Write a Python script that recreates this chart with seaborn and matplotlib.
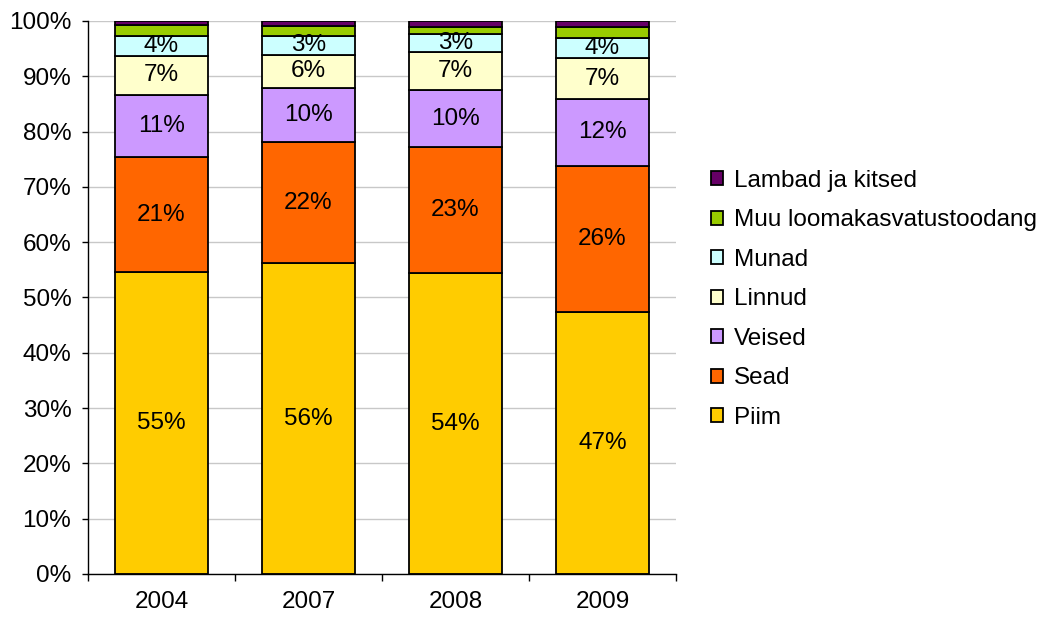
import numpy as np
import pandas as pd
import matplotlib
matplotlib.use('Agg')
import matplotlib.pyplot as plt
import seaborn as sns
from matplotlib.ticker import MultipleLocator, FuncFormatter

# data (shares in %)
years = ['2004', '2007', '2008', '2009']
series = ['Piim', 'Sead', 'Veised', 'Linnud', 'Munad', 'Muu loomakasvatustoodang', 'Lambad ja kitsed']
piim = [54.6, 56.2, 54.4, 47.4]
sead = [20.8, 21.9, 22.8, 26.4]
veised = [11.2, 9.8, 10.3, 12.1]
linnud = [7.1, 6.0, 6.9, 7.4]
munad = [3.6, 3.4, 3.2, 3.6]
muu = [2.0, 1.8, 1.3, 2.0]
lambad = [0.7, 0.9, 1.1, 1.1]
colors = ['#FFCC00', '#FF6600', '#CC99FF', '#FFFFCC', '#CCFFFF', '#99CC00', '#660066']
labelled = ['Piim', 'Sead', 'Veised', 'Linnud', 'Munad']

values = [piim, sead, veised, linnud, munad, muu, lambad]
df = pd.DataFrame({'year': years * len(series),
                   'series': np.repeat(series, len(years)),
                   'share': np.concatenate(values)})

sns.set_style('white')
plt.rcParams['font.family'] = ['Liberation Sans', 'DejaVu Sans']
plt.rcParams['text.color'] = 'black'
plt.rcParams['xtick.color'] = 'black'
plt.rcParams['ytick.color'] = 'black'
fs = 17.5

fig = plt.figure(figsize=(10.38, 6.21), dpi=100)
ax = fig.add_axes([0.0848, 0.0757, 0.5665, 0.8905])

bottom = np.zeros(len(years))
for name, col in zip(series, colors):
    sub = df[df['series'] == name]
    sns.barplot(data=sub, x='year', y='share', order=years, bottom=bottom,
                color=col, edgecolor='black', linewidth=1.3, width=0.63,
                saturation=1, errorbar=None, label=name, ax=ax)
    if name in labelled:
        ax.bar_label(ax.containers[-1], labels=[f'{v:.0f}%' for v in sub['share']],
                     label_type='center', fontsize=fs, color='black')
    bottom = bottom + sub['share'].values

ax.set_xlim(-0.5, 3.5)
ax.set_ylim(0, 100)
ax.yaxis.set_major_locator(MultipleLocator(10))
ax.yaxis.set_major_formatter(FuncFormatter(lambda v, p: f'{v:.0f}%'))
ax.yaxis.grid(True, color='#C8C8C8', linewidth=1)
ax.set_axisbelow(True)
ax.set_xlabel('')
ax.set_ylabel('')
for s in ['top', 'right']:
    ax.spines[s].set_visible(False)
for s in ['left', 'bottom']:
    ax.spines[s].set_color('black')
    ax.spines[s].set_linewidth(1)
ax.tick_params(axis='y', which='major', direction='out', length=4, width=1,
               color='black', labelcolor='black', labelsize=fs, pad=8, left=True)
ax.tick_params(axis='x', which='major', length=0, labelsize=fs, labelcolor='black', pad=12)
ax.set_xticks([-0.5, 0.5, 1.5, 2.5, 3.5], minor=True)
ax.tick_params(axis='x', which='minor', direction='out', length=5, width=1,
               color='black', bottom=True)

handles, labels = ax.get_legend_handles_labels()
leg = ax.legend(handles[::-1], labels[::-1], loc='center left',
                bbox_to_anchor=(0.685, 0.518), bbox_transform=fig.transFigure,
                frameon=False, fontsize=fs, handlelength=0.5, handleheight=0.5,
                handletextpad=0.45, labelspacing=0.72, borderpad=0, borderaxespad=0)
for t in leg.get_texts():
    t.set_color('black')

fig.savefig('out.png', dpi=100)
